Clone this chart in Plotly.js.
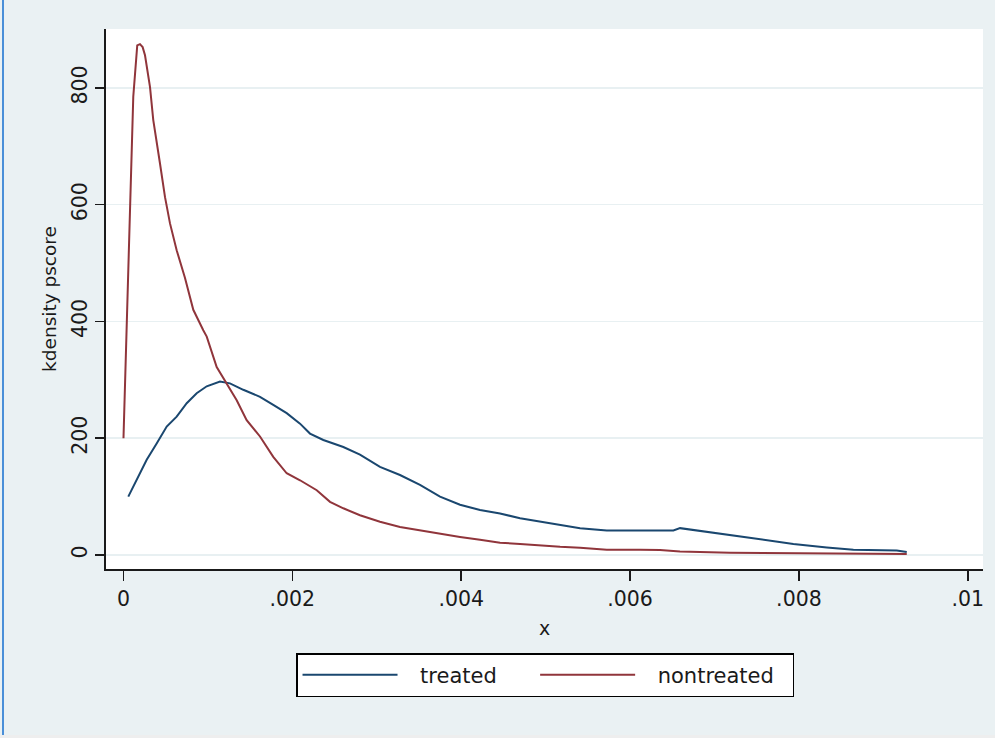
<!DOCTYPE html>
<html>
<head>
<meta charset="utf-8">
<script src="https://cdn.plot.ly/plotly-3.0.1.min.js"></script>
<style>html,body{margin:0;padding:0;background:#eaf1f3;}#chart{width:995px;height:738px;}</style>
</head>
<body>
<div id="chart"></div>
<script>
// treated kernel density
var treatedX = [0.000057,0.000156,0.000275,0.000393,0.000512,0.000630,0.000749,0.000867,0.000986,0.001143,0.001261,0.001419,0.001617,0.001774,0.001933,0.002091,0.002209,0.002367,0.002604,0.002801,0.003038,0.003275,0.003512,0.003749,0.003986,0.004223,0.004460,0.004697,0.004934,0.005171,0.005408,0.005724,0.006118,0.006513,0.006592,0.006829,0.007184,0.007540,0.007934,0.008330,0.008645,0.009159,0.009277];
var treatedY = [100,128,163,191,220,237,260,277,289,297,294,283,271,257,243,225,208,197,185,172,151,137,120,100,86,77,71,63,57,51,46,42,42,42,46,41,34,27,19,13,9,7.5,5];
// nontreated kernel density
var nontreatedX = [0,0.000038,0.000057,0.000077,0.000116,0.000163,0.000195,0.000227,0.000255,0.000314,0.000353,0.000432,0.000492,0.000551,0.000630,0.000728,0.000827,0.000945,0.000986,0.001104,0.001222,0.001341,0.001459,0.001617,0.001774,0.001933,0.002091,0.002289,0.002446,0.002604,0.002801,0.003038,0.003275,0.003512,0.003749,0.003986,0.004223,0.004460,0.004697,0.004934,0.005171,0.005408,0.005724,0.006118,0.006355,0.006591,0.007184,0.008013,0.008724,0.009277];
var nontreatedY = [200,391,471,603,785,873,875,870,856,802,745,671,613,568,522,475,420,385,374,322,294,265,231,203,168,140,128,111,91,80,68,57,48,42,36,31,26,21,19,16,14,12.5,9,9,8.6,6,4,3,2.5,1.5];
var seriesNames = ['treated', 'nontreated'];
var xTickVals = [0,0.002,0.004,0.006,0.008,0.01];
var xTickText = ['0','.002','.004','.006','.008','.01'];
var yTickVals = [0,200,400,600,800];
var yTickText = ['0','200','400','600','800'];

var FONT = 'DejaVu Sans, Arial, sans-serif';
var NB = '\u00a0';
var PAD = NB + NB + '\u2009';
var traces = [
  {x: treatedX, y: treatedY, type: 'scatter', mode: 'lines',
   name: PAD + seriesNames[0] + NB + NB + NB + NB + NB,
   line: {color: '#1a476f', width: 2}},
  {x: nontreatedX, y: nontreatedY, type: 'scatter', mode: 'lines',
   name: PAD + seriesNames[1] + NB + NB,
   line: {color: '#90353b', width: 2}}
];
var W = 877, H = 540;
var layout = {
  width: 995, height: 738,
  margin: {l: 106, r: 12, t: 29, b: 169, pad: 0},
  paper_bgcolor: '#eaf1f3',
  plot_bgcolor: '#ffffff',
  font: {family: FONT, color: '#1a1a1a', size: 20},
  showlegend: true,
  legend: {
    orientation: 'h', x: 0.5006, xanchor: 'center', y: -0.1556, yanchor: 'top',
    bgcolor: '#ffffff', bordercolor: '#000000', borderwidth: 1.5,
    font: {family: FONT, size: 21, color: '#1a1a1a'},
    itemwidth: 95
  },
  xaxis: {
    range: [-0.000207, 0.01018],
    tickvals: xTickVals, ticktext: xTickText,
    ticks: 'outside', ticklen: 10, tickwidth: 1.5, tickcolor: '#1a1a1a',
    showline: true, linecolor: '#1a1a1a', linewidth: 2, mirror: false,
    showgrid: false, zeroline: false,
    tickfont: {family: FONT, size: 20.5, color: '#1a1a1a'},
    title: {text: 'x', font: {family: FONT, size: 19, color: '#1a1a1a'}, standoff: 12}
  },
  yaxis: {
    range: [-24, 901],
    tickvals: yTickVals, ticktext: yTickText, tickangle: -90,
    ticks: 'outside', ticklen: 9, tickwidth: 1.5, tickcolor: '#1a1a1a',
    showline: true, linecolor: '#1a1a1a', linewidth: 2,
    showgrid: true, gridcolor: '#e8f0f2', gridwidth: 1.5, zeroline: false,
    tickfont: {family: FONT, size: 20.5, color: '#1a1a1a'},
    title: {text: 'kdensity pscore', font: {family: FONT, size: 18.5, color: '#1a1a1a'}, standoff: 6}
  },
  shapes: [
    {type: 'line', xref: 'paper', yref: 'paper', x0: (3 - 106) / W, x1: (3 - 106) / W,
     y0: (569 - 735) / H, y1: (569 + 2) / H, line: {color: '#4a8fd8', width: 2}},
    {type: 'rect', xref: 'paper', yref: 'paper', x0: (0 - 106) / W, x1: (995 - 106) / W,
     y0: (569 - 738) / H, y1: (569 - 735) / H, fillcolor: '#eeeeee', line: {width: 0}, layer: 'below'}
  ]
};
Plotly.newPlot('chart', traces, layout, {displayModeBar: false, staticPlot: true});
</script>
</body>
</html>
